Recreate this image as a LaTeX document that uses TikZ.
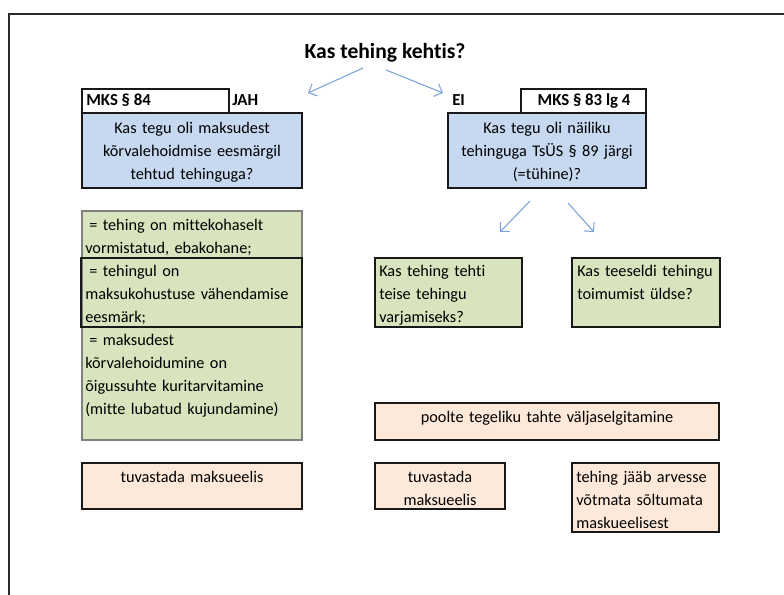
\documentclass[tikz,border=0pt]{standalone}
\usepackage{fontspec}
\setmainfont{Carlito}[Ligatures={NoCommon}]
\usetikzlibrary{arrows.meta,fit}
\definecolor{bluefill}{HTML}{C6D9F1}
\definecolor{greenfill}{HTML}{D7E4BD}
\definecolor{peachfill}{HTML}{FDE9D9}
\definecolor{arrowblue}{HTML}{7BA3D8}
\definecolor{framegray}{HTML}{2A2A2A}
\begin{document}
\begin{tikzpicture}[x=0.75pt,y=-0.75pt,
  box/.style={draw=black!90, line width=1pt, inner sep=0pt},
  lightbox/.style={draw=black!50, line width=0.8pt, inner sep=0pt},
  txt/.style={font=\fontsize{12.2}{17.25}\selectfont, inner sep=0pt},
  btxt/.style={font=\fontsize{12.6}{17.25}\selectfont\bfseries, inner sep=0pt},
  ctxt/.style={txt, text width=#1, align=center, anchor=base},
  ltxt/.style={txt, text width=170pt, align=left, anchor=base west},
  arr/.style={draw=arrowblue, line width=0.8pt, -{Straight Barb[length=5pt,width=10pt]}}]
\useasboundingbox (0,0) rectangle (784,595);
% frame
\draw[framegray, line width=1.5pt] (8.5,595) -- (8.5,14.5) -- (784,14.5);
% title
\node[font=\fontsize{16.2}{19}\selectfont\bfseries, inner sep=0pt, anchor=base] (title) at (385,59) {Kas tehing kehtis?};
\coordinate (t1s) at (363,68); \coordinate (t1e) at (308,93);
\coordinate (t2s) at (386,70); \coordinate (t2e) at (443,93);
\draw[arr] (t1s) -- (t1e);
\draw[arr] (t2s) -- (t2e);
% left header
\node[box, fill=white, fit={(82,89) (229,113)}] (mks84) {};
\node[btxt, anchor=base west] (mks84t) at (86,106) {MKS § 84};
\node[btxt, anchor=base west] (jah) at (232,106) {JAH};
\node[box, fill=bluefill, fit={(82,113) (302,188)}] (qL) {};
\node[ctxt=165pt] (qLt) at (192,134) {Kas tegu oli maksudest\\kõrvalehoidmise eesmärgil\\tehtud tehinguga?};
% right header
\node[btxt, anchor=base west] (ei) at (452,106) {EI};
\node[box, fill=white, fit={(521,89) (646,113)}] (mks83) {};
\node[btxt, anchor=base] (mks83t) at (584,106) {MKS § 83 lg 4};
\node[box, fill=bluefill, fit={(448,113) (646,188)}] (qR) {};
\node[ctxt=148pt] (qRt) at (547,134) {Kas tegu oli näiliku\\tehinguga TsÜS § 89 järgi\\(=tühine)?};
% arrows to sub questions
\coordinate (a1s) at (530,201); \coordinate (a1e) at (500,232);
\coordinate (a2s) at (568,203); \coordinate (a2e) at (594,232);
\draw[arr] (a1s) -- (a1e);
\draw[arr] (a2s) -- (a2e);
% left green block
\node[lightbox, fill=greenfill, fit={(82,211) (302,440)}] (gL) {};
\node[box, fit={(81,258) (302,327)}] (gLmid) {};
\node[ltxt] (gLt) at (85,230) {\hspace*{0.25em}= tehing on mittekohaselt\\vormistatud, ebakohane;\\\hspace*{0.25em}= tehingul on\\maksukohustuse vähendamise\\eesmärk;\\\hspace*{0.25em}= maksudest\\kõrvalehoidumine on\\õigussuhte kuritarvitamine\\(mitte lubatud kujundamine)};
% right green boxes
\node[box, fill=greenfill, fit={(375,258) (522,327)}] (gM) {};
\node[ltxt] (gMt) at (379,276) {Kas tehing tehti\\teise tehingu\\varjamiseks?};
\node[box, fill=greenfill, fit={(572,258) (720,327)}] (gR) {};
\node[ltxt] (gRt) at (577,276) {Kas teeseldi tehingu\\toimumist üldse?};
% peach boxes
\node[box, fill=peachfill, fit={(375,403) (719,440)}] (pW) {};
\node[ctxt=258pt] (pWt) at (547,422) {poolte tegeliku tahte väljaselgitamine};
\node[box, fill=peachfill, fit={(82,463) (302,509)}] (pL) {};
\node[ctxt=165pt] (pLt) at (192,482) {tuvastada maksueelis};
\node[box, fill=peachfill, fit={(375,463) (505,509)}] (pM) {};
\node[ctxt=97pt] (pMt) at (440,482) {tuvastada\\maksueelis};
\node[box, fill=peachfill, fit={(572,463) (719,532)}] (pR) {};
\node[ltxt] (pRt) at (576,482) {tehing jääb arvesse\\võtmata sõltumata\\maskueelisest};
\end{tikzpicture}
\end{document}
